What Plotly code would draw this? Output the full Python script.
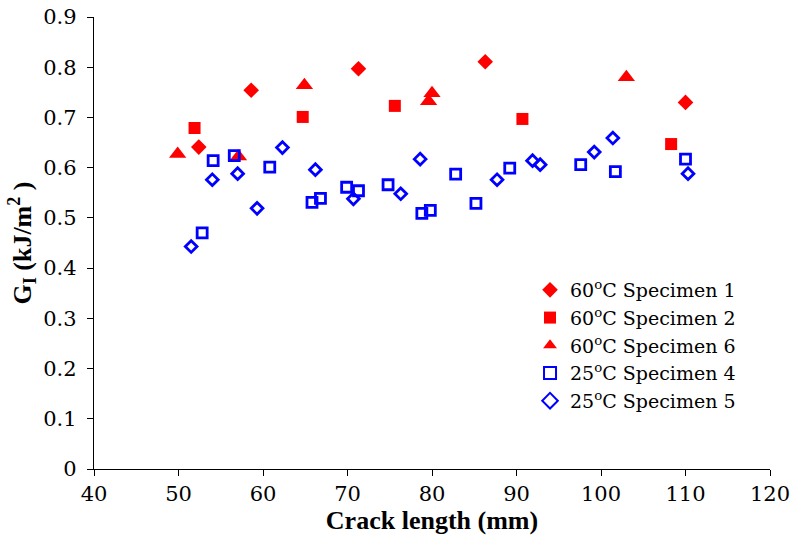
import plotly.graph_objects as go

# 60°C Specimen 1 (filled diamonds)
s1_x = [52.4, 58.6, 71.3, 86.3, 110.0]
s1_y = [0.641, 0.754, 0.797, 0.811, 0.730]
# 60°C Specimen 2 (filled squares)
s2_x = [51.9, 64.7, 75.6, 90.7, 108.3]
s2_y = [0.679, 0.701, 0.723, 0.697, 0.647]
# 60°C Specimen 6 (filled triangles)
s6_x = [49.9, 57.1, 64.9, 79.6, 80.0, 103.0]
s6_y = [0.627, 0.622, 0.764, 0.732, 0.748, 0.780]
# 25°C Specimen 4 (open squares)
s4_x = [52.8, 54.1, 56.6, 60.8, 65.8, 66.8, 69.9, 71.3, 74.8, 78.8, 79.8,
        82.8, 85.2, 89.2, 97.6, 101.7, 110.0]
s4_y = [0.470, 0.614, 0.624, 0.601, 0.531, 0.539, 0.561, 0.554, 0.566, 0.509,
        0.515, 0.587, 0.529, 0.599, 0.606, 0.592, 0.617]
# 25°C Specimen 5 (open diamonds)
s5_x = [51.5, 54.0, 57.0, 59.3, 62.3, 66.2, 70.7, 76.3, 78.6, 87.7, 91.9,
        92.8, 99.2, 101.4, 110.3]
s5_y = [0.443, 0.576, 0.588, 0.519, 0.640, 0.596, 0.538, 0.548, 0.617, 0.576,
        0.614, 0.606, 0.631, 0.659, 0.588]

x_ticks = [40, 50, 60, 70, 80, 90, 100, 110, 120]
y_ticks = [0, 0.1, 0.2, 0.3, 0.4, 0.5, 0.6, 0.7, 0.8, 0.9]
y_tick_text = ["0", "0.1", "0.2", "0.3", "0.4", "0.5", "0.6", "0.7", "0.8", "0.9"]

REG = "DejaVu Serif"
BOLD = "Liberation Serif"
RED = "#ff0000"
BLUE = "#0000ff"

fig = go.Figure()
fig.add_trace(go.Scatter(x=s1_x, y=s1_y, mode="markers", name="60<sup>o</sup>C Specimen 1",
                         marker=dict(symbol="diamond", size=12, color=RED)))
fig.add_trace(go.Scatter(x=s2_x, y=s2_y, mode="markers", name="60<sup>o</sup>C Specimen 2",
                         marker=dict(symbol="square", size=12, color=RED)))
fig.add_trace(go.Scatter(x=s6_x, y=s6_y, mode="markers", name="60<sup>o</sup>C Specimen 6",
                         marker=dict(symbol="triangle-up", size=15, color=RED)))
fig.add_trace(go.Scatter(x=s4_x, y=s4_y, mode="markers", name="25<sup>o</sup>C Specimen 4",
                         marker=dict(symbol="square-open", size=10, color=BLUE,
                                     line=dict(width=2.8, color=BLUE))))
fig.add_trace(go.Scatter(x=s5_x, y=s5_y, mode="markers", name="25<sup>o</sup>C Specimen 5",
                         marker=dict(symbol="diamond-open", size=9, color=BLUE,
                                     line=dict(width=2.8, color=BLUE))))

fig.update_layout(
    width=798, height=544,
    margin=dict(l=94, r=28, t=17, b=75),
    paper_bgcolor="white", plot_bgcolor="white",
    font=dict(family=REG, size=20, color="black"),
    showlegend=True,
    legend=dict(x=0.645, y=0.438, xanchor="left", yanchor="top",
                font=dict(family=REG, size=19, color="black"),
                bgcolor="rgba(0,0,0,0)", tracegroupgap=0, itemsizing="constant"),
    xaxis=dict(range=[40, 120], tickvals=x_ticks, showgrid=False, zeroline=False,
               showline=True, linecolor="black", linewidth=1.3, automargin=False,
               ticks="outside", ticklen=6, tickcolor="black",
               tickfont=dict(family=REG, size=21, color="black"),
               title=dict(text="<b>Crack length (mm)</b>",
                          font=dict(family=BOLD, size=26, color="black"), standoff=4)),
    yaxis=dict(range=[0, 0.9], tickvals=y_ticks, ticktext=y_tick_text,
               showgrid=False, zeroline=False, automargin=False,
               showline=True, linecolor="black", linewidth=1.3,
               ticks="outside", ticklen=6, tickcolor="black", ticklabelstandoff=6,
               tickfont=dict(family=REG, size=21, color="black"),
               title=dict(text="<b>G<sub>I</sub> (kJ/m<sup>2</sup> )</b>",
                          font=dict(family=BOLD, size=26, color="black"), standoff=4)),
)

fig.write_html("out.html")
